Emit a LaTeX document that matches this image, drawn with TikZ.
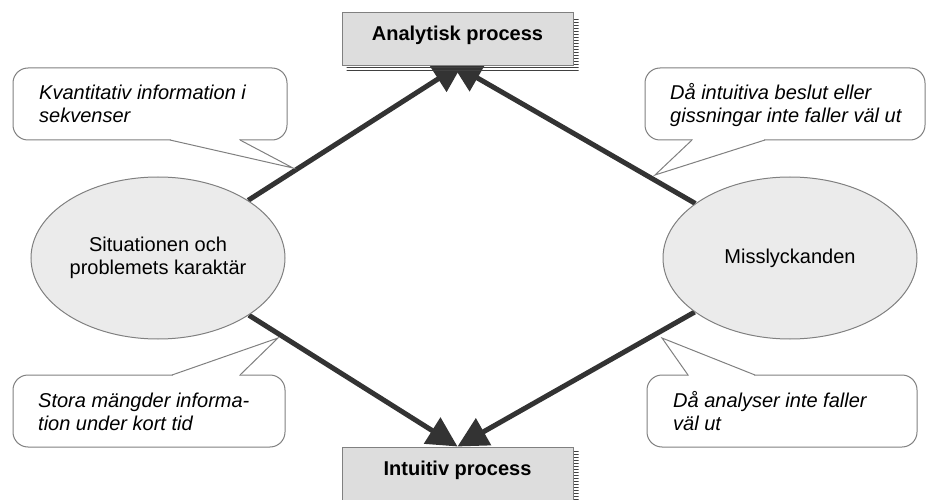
\documentclass[tikz,border=0pt]{standalone}
\usepackage{fontspec}
\setmainfont{Liberation Sans}
\usetikzlibrary{arrows.meta,shapes.geometric,patterns}
\pgfdeclarelayer{back}
\pgfsetlayers{back,main}
\definecolor{boxfill}{HTML}{DDDDDD}
\definecolor{ovalfill}{HTML}{EBEBEB}
\definecolor{edgegray}{HTML}{808080}
\definecolor{flow}{HTML}{333333}
\tikzset{
  procbox/.style={rectangle, draw=edgegray, fill=boxfill, line width=1pt,
    minimum width=231pt, inner xsep=0pt, inner ysep=0pt,
    text height=28pt, text depth=25pt, anchor=base,
    font=\fontsize{20}{23}\selectfont\bfseries},
  boxshadow/.style={pattern=horizontal lines, pattern color=black!75},
  factor/.style={ellipse, draw=edgegray, fill=ovalfill, line width=1pt,
    minimum width=254pt, minimum height=162pt, inner sep=0pt, align=center,
    font=\fontsize{20}{23}\selectfont},
  flowarrow/.style={draw=flow, line width=5pt,
    -{Triangle[length=30pt,width=30pt]}},
  bubble/.style={draw=edgegray, fill=white, line width=1pt},
  bubbleframe/.style={bubble, rounded corners=15pt},
  bubblegap/.style={draw=white, line width=2.2pt},
  bubbletext/.style={anchor=north west, inner sep=0pt, align=left,
    font=\fontsize{20}{23}\selectfont\itshape},
}
\begin{document}
\begin{tikzpicture}[x=1pt,y=-1pt]
\useasboundingbox (0,0) rectangle (927,500);

% process boxes
\node[procbox] (ana) at (457.5,41) {Analytisk process};
\node[procbox] (intu) at (457.5,475) {Intuitiv process};

% factors
\node[factor] (sit) at (158,258) {Situationen och\\problemets karaktär};
\node[factor] (miss) at (790,258) {Misslyckanden};

% flows and box shadows
\begin{pgfonlayer}{back}
  \draw[flowarrow, shorten >=-7pt] (sit) -- (ana.south);
  \draw[flowarrow, shorten >=-7pt] (miss) -- (ana.south);
  \draw[flowarrow] (sit) -- (intu.north);
  \draw[flowarrow] (miss) -- (intu.north);
  \fill[boxshadow] ([shift={(5pt,-5pt)}]ana.south west) rectangle ([shift={(5pt,-5pt)}]ana.north east);
  \fill[boxshadow] ([shift={(5pt,-5pt)}]intu.south west) rectangle ([shift={(5pt,-5pt)}]intu.north east);
\end{pgfonlayer}

% callout tips
\coordinate (tl-tip) at (293,168);
\coordinate (tr-tip) at (655,175);
\coordinate (bl-tip) at (278,338);
\coordinate (br-tip) at (662,338);

% upper left callout
\draw[bubbleframe] (13,68) rectangle (287,140);
\draw[bubblegap] (171,140) -- (239,140);
\filldraw[bubble] (170,140) -- (tl-tip) -- (240,140);
\node[bubbletext] (tl-text) at (39,84.5) {Kvantitativ information i\\sekvenser};

% upper right callout
\draw[bubbleframe] (645,68) rectangle (925,140);
\draw[bubblegap] (693,140) -- (764,140);
\filldraw[bubble] (692,140) -- (tr-tip) -- (765,140);
\node[bubbletext] (tr-text) at (670,83.5) {Då intuitiva beslut eller\\gissningar inte faller väl ut};

% lower left callout
\draw[bubbleframe] (13,375) rectangle (285,447);
\draw[bubblegap] (173,375) -- (239,375);
\filldraw[bubble] (172,375) -- (bl-tip) -- (240,375);
\node[bubbletext] (bl-text) at (38,392.5) {Stora mängder informa-\\tion under kort tid};

% lower right callout
\draw[bubbleframe] (647,375) rectangle (917,447);
\draw[bubblegap] (689,375) -- (754,375);
\filldraw[bubble] (688,375) -- (br-tip) -- (755,375);
\node[bubbletext] (br-text) at (673,391.5) {Då analyser inte faller\\väl ut};
\end{tikzpicture}
\end{document}
